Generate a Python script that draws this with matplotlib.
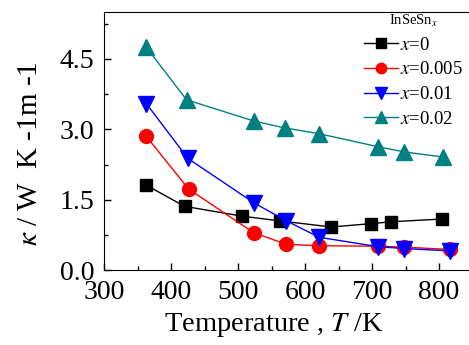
import matplotlib
matplotlib.use('Agg')
import matplotlib.pyplot as plt
from matplotlib.ticker import MultipleLocator

plt.rcParams['font.family'] = ['Liberation Serif', 'DejaVu Serif']
plt.rcParams['mathtext.fontset'] = 'stix'

T0 = [363, 420, 506, 562, 639, 698, 728, 805]
k0 = [1.81, 1.36, 1.15, 1.05, 0.92, 0.99, 1.03, 1.09]
T005 = [363, 426, 523, 572, 621, 709, 748, 816]
k005 = [2.85, 1.73, 0.80, 0.55, 0.52, 0.51, 0.49, 0.44]
T01 = [363, 425, 523, 572, 621, 709, 748, 816]
k01 = [3.55, 2.38, 1.44, 1.05, 0.70, 0.50, 0.46, 0.41]
T02 = [363, 423, 523, 570, 620, 709, 748, 806]
k02 = [4.75, 3.63, 3.18, 3.03, 2.91, 2.63, 2.52, 2.41]
labels = ['$x$=0', '$x$=0.005', '$x$=0.01', '$x$=0.02']

fig = plt.figure(figsize=(4.69, 3.45), dpi=100)
ax = fig.add_axes([0.222, 0.217, 0.78, 0.748])

ax.plot(T0, k0, '-s', color='black', lw=1, ms=9, label=labels[0])
ax.plot(T005, k005, '-o', color='red', lw=1, ms=10, label=labels[1])
ax.plot(T01, k01, '-v', color='blue', lw=1, ms=11, label=labels[2])
ax.plot(T02, k02, '-^', color='#008080', lw=1, ms=11, label=labels[3])

ax.set_xlim(300, 846)
ax.set_ylim(0, 5.5)
ax.xaxis.set_major_locator(MultipleLocator(100))
ax.xaxis.set_minor_locator(MultipleLocator(50))
ax.yaxis.set_major_locator(MultipleLocator(1.5))
ax.yaxis.set_minor_locator(MultipleLocator(0.75))
ax.yaxis.set_major_formatter(matplotlib.ticker.FormatStrFormatter('%.1f'))
ax.tick_params(which='both', direction='in', labelsize=20, width=1)
ax.tick_params(which='major', length=5)
ax.tick_params(which='minor', length=3)
ax.tick_params(axis='x', pad=7)
ax.tick_params(axis='y', pad=7)
ax.spines['right'].set_visible(False)

ax.set_xlabel('Temperature , $T$ /K', fontsize=20.5)
ax.xaxis.set_label_coords(0.465, -0.16)
ax.set_ylabel(r'$\kappa$ / W  K -1m -1', fontsize=21)
ax.yaxis.set_label_coords(-0.167, 0.452)

leg = ax.legend(loc='upper right', frameon=False, fontsize=13.5, title='InSeSn$_x$',
                title_fontsize=10.5, handlelength=1.8, handletextpad=0.1,
                labelspacing=0.4, borderaxespad=0.0, markerscale=0.75,
                bbox_to_anchor=(1.0, 1.025))

fig.savefig('out.png', dpi=100)
